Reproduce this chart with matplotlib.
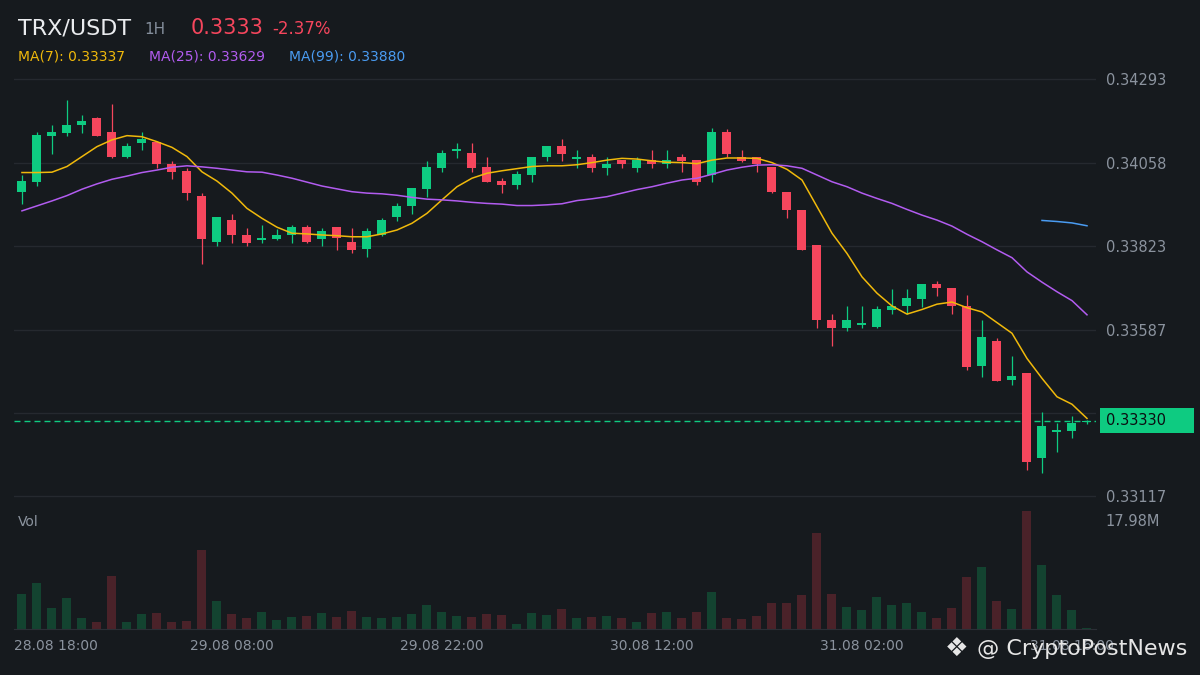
import numpy as np
import matplotlib
matplotlib.use('Agg')
import matplotlib.pyplot as plt
import matplotlib.transforms as mtransforms
from matplotlib.patches import Rectangle

# TRX/USDT hourly candles, 28.08 18:00 -> 31.08 17:00
opens = [0.33976, 0.34004, 0.34134, 0.34142, 0.34165, 0.34184, 0.34144, 0.34075, 0.34114, 0.34116,
         0.34054, 0.34034, 0.33964, 0.33835, 0.33896, 0.33854, 0.33841, 0.33843, 0.33855, 0.33877,
         0.33843, 0.33877, 0.33834, 0.33815, 0.33855, 0.33906, 0.33937, 0.33985, 0.34044, 0.34092,
         0.34085, 0.34046, 0.34006, 0.33996, 0.34024, 0.34075, 0.34105, 0.34069, 0.34074, 0.34044,
         0.34065, 0.34044, 0.34065, 0.34055, 0.34074, 0.34065, 0.34024, 0.34144, 0.34074, 0.34074,
         0.34046, 0.33975, 0.33924, 0.33826, 0.33614, 0.33593, 0.33601, 0.33595, 0.33643, 0.33655,
         0.33674, 0.33716, 0.33705, 0.33654, 0.33485, 0.33555, 0.33446, 0.33465, 0.33226, 0.33299,
         0.33302, 0.33326]
highs = [0.34023, 0.34144, 0.34164, 0.34235, 0.34192, 0.34186, 0.34223, 0.34113, 0.34144, 0.34118,
         0.34063, 0.34042, 0.33972, 0.33905, 0.33913, 0.33874, 0.33882, 0.33871, 0.33882, 0.33882,
         0.33874, 0.33877, 0.33874, 0.33874, 0.33902, 0.33944, 0.33986, 0.34063, 0.34094, 0.34113,
         0.34113, 0.34074, 0.34015, 0.34034, 0.34074, 0.34105, 0.34125, 0.34094, 0.34082, 0.34074,
         0.34065, 0.34074, 0.34094, 0.34094, 0.34082, 0.34065, 0.34156, 0.34153, 0.34094, 0.34074,
         0.34046, 0.33975, 0.33924, 0.33826, 0.33631, 0.33654, 0.33654, 0.33654, 0.33702, 0.33702,
         0.33716, 0.33724, 0.33705, 0.33685, 0.33614, 0.33563, 0.33513, 0.33465, 0.33355, 0.33324,
         0.33344, 0.33332]
lows = [0.33942, 0.33993, 0.34083, 0.34134, 0.34142, 0.34134, 0.34072, 0.34072, 0.34094, 0.34044,
        0.34013, 0.33953, 0.33773, 0.33824, 0.33832, 0.33824, 0.33832, 0.33840, 0.33832, 0.33832,
        0.33824, 0.33813, 0.33804, 0.33793, 0.33852, 0.33894, 0.33914, 0.33962, 0.34032, 0.34072,
        0.34032, 0.34004, 0.33973, 0.33985, 0.34004, 0.34063, 0.34063, 0.34044, 0.34032, 0.34024,
        0.34044, 0.34032, 0.34044, 0.34044, 0.34032, 0.33995, 0.34004, 0.34073, 0.34061, 0.34032,
        0.33973, 0.33903, 0.33813, 0.33593, 0.33542, 0.33584, 0.33593, 0.33593, 0.33632, 0.33632,
        0.33652, 0.33683, 0.33632, 0.33474, 0.33454, 0.33443, 0.33432, 0.33192, 0.33184, 0.33243,
        0.33282, 0.33320]
closes = [0.34006, 0.34136, 0.34144, 0.34164, 0.34175, 0.34134, 0.34075, 0.34105, 0.34125, 0.34055,
          0.34032, 0.33973, 0.33843, 0.33905, 0.33855, 0.33832, 0.33846, 0.33854, 0.33877, 0.33835,
          0.33865, 0.33846, 0.33813, 0.33865, 0.33896, 0.33936, 0.33986, 0.34046, 0.34085, 0.34096,
          0.34044, 0.34004, 0.33996, 0.34026, 0.34074, 0.34105, 0.34083, 0.34074, 0.34044, 0.34054,
          0.34055, 0.34065, 0.34055, 0.34065, 0.34063, 0.34004, 0.34144, 0.34083, 0.34063, 0.34055,
          0.33976, 0.33925, 0.33813, 0.33615, 0.33593, 0.33614, 0.33606, 0.33645, 0.33654, 0.33676,
          0.33716, 0.33705, 0.33655, 0.33483, 0.33566, 0.33443, 0.33456, 0.33215, 0.33315, 0.33304,
          0.33324, 0.33330]

# volume in millions
volumes_m = [5.78, 7.59, 3.47, 5.12, 1.82, 1.16, 8.75, 1.16, 2.48, 2.64,
             1.16, 1.32, 13.04, 4.62, 2.48, 1.82, 2.81, 1.49, 1.98, 2.15,
             2.64, 1.98, 2.97, 1.98, 1.82, 1.98, 2.48, 3.96, 2.81, 2.15,
             1.98, 2.48, 2.31, 0.83, 2.64, 2.31, 3.30, 1.82, 1.98, 2.15,
             1.82, 1.16, 2.64, 2.81, 1.82, 2.81, 6.11, 1.82, 1.65, 2.15,
             4.29, 4.29, 5.61, 15.84, 5.78, 3.63, 3.14, 5.28, 3.96, 4.29,
             2.81, 1.82, 3.47, 8.58, 10.23, 4.62, 3.30, 19.47, 10.56, 5.61,
             3.14, 0.17]

ma7 = [0.34030, 0.34030, 0.34031, 0.34047, 0.34075, 0.34103, 0.34122, 0.34134, 0.34131, 0.34117,
       0.34101, 0.34075, 0.34032, 0.34006, 0.33972, 0.33929, 0.33901, 0.33876, 0.33859, 0.33857,
       0.33854, 0.33852, 0.33849, 0.33849, 0.33857, 0.33868, 0.33887, 0.33915, 0.33953, 0.33990,
       0.34014, 0.34028, 0.34035, 0.34041, 0.34047, 0.34049, 0.34049, 0.34052, 0.34058, 0.34065,
       0.34070, 0.34068, 0.34063, 0.34059, 0.34058, 0.34055, 0.34065, 0.34071, 0.34071, 0.34070,
       0.34058, 0.34039, 0.34009, 0.33934, 0.33859, 0.33802, 0.33736, 0.33690, 0.33654, 0.33631,
       0.33644, 0.33659, 0.33665, 0.33649, 0.33637, 0.33607, 0.33577, 0.33506, 0.33450, 0.33398,
       0.33377, 0.33337]
ma25 = [0.33922, 0.33936, 0.33950, 0.33965, 0.33983, 0.33998, 0.34011, 0.34020, 0.34030, 0.34037,
        0.34045, 0.34049, 0.34046, 0.34042, 0.34037, 0.34032, 0.34031, 0.34023, 0.34014, 0.34003,
        0.33992, 0.33984, 0.33976, 0.33972, 0.33970, 0.33966, 0.33960, 0.33955, 0.33953, 0.33950,
        0.33946, 0.33943, 0.33941, 0.33937, 0.33937, 0.33939, 0.33942, 0.33951, 0.33956, 0.33962,
        0.33972, 0.33982, 0.33990, 0.34000, 0.34009, 0.34014, 0.34025, 0.34037, 0.34045, 0.34051,
        0.34052, 0.34049, 0.34042, 0.34023, 0.34004, 0.33990, 0.33972, 0.33957, 0.33943, 0.33926,
        0.33910, 0.33896, 0.33879, 0.33856, 0.33835, 0.33812, 0.33790, 0.33750, 0.33721, 0.33694,
        0.33669, 0.33629]
ma99 = [np.nan] * 68 + [0.33895, 0.33892, 0.33888, 0.33880]

change_pct = -2.37
price_ticks = [0.34293, 0.34058, 0.33823, 0.33587, 0.33352, 0.33117]
vol_tick = 17.98
time_labels = ['28.08 18:00', '29.08 08:00', '29.08 22:00', '30.08 12:00', '31.08 02:00', '31.08 16:00']
time_label_idx = [0, 14, 28, 42, 56, 70]

BG = '#161a1e'
GRID = '#25292f'
TXT = '#8b939e'
UP = '#0ecb81'
DOWN = '#f6465d'
UP_VOL = '#134330'
DOWN_VOL = '#4a2229'
C_MA7 = '#f0b90b'
C_MA25 = '#b25cf0'
C_MA99 = '#4a9cf2'

W, H = 1200, 675
fig = plt.figure(figsize=(12, 6.75), dpi=100, facecolor=BG)


def fx(px):
    return px / W


def fy(py):
    return 1 - py / H


ax = fig.add_axes([fx(14), fy(505), fx(1096) - fx(14), fy(70) - fy(505)], facecolor=BG)
axv = fig.add_axes([fx(14), fy(629), fx(1096) - fx(14), fy(510) - fy(629)], facecolor='none')

x = np.arange(len(closes))
o = np.array(opens)
c = np.array(closes)
up = c >= o
colors = np.where(up, UP, DOWN)

# candles
ax.vlines(x, lows, highs, colors=colors, lw=0.9, zorder=2)
body_lo = np.minimum(o, c)
body_h = np.maximum(np.abs(c - o), 0.00004)
ax.bar(x, body_h, bottom=body_lo, width=0.6, color=colors, linewidth=0, zorder=2)

# moving averages
ax.plot(x, ma7, color=C_MA7, lw=1.1, zorder=3)
ax.plot(x, ma25, color=C_MA25, lw=1.1, zorder=3)
ax.plot(x, ma99, color=C_MA99, lw=1.1, zorder=3)

# last price dashed line
ax.axhline(closes[-1], color=UP, lw=1, ls=(0, (4.3, 2.9)), zorder=1)

ax.set_xlim(-0.53, 71.6)
ax.set_ylim(0.33093, 0.34319)
ax.set_yticks(price_ticks)
# the tick hidden behind the current price tag gets no label
ax.set_yticklabels(['' if abs(t - closes[-1]) < 0.0004 else f'{t:.5f}' for t in price_ticks])
ax.yaxis.tick_right()
ax.tick_params(axis='y', length=0, pad=7, labelsize=10.5, labelcolor=TXT)
ax.tick_params(axis='x', bottom=False, labelbottom=False)
ax.grid(axis='y', color=GRID, lw=1)
ax.set_axisbelow(True)
for s in ax.spines.values():
    s.set_visible(False)

# volume pane
vol_colors = np.where(up, UP_VOL, DOWN_VOL)
axv.bar(x, volumes_m, width=0.6, color=vol_colors, linewidth=0)
axv.set_xlim(-0.53, 71.6)
axv.set_ylim(0, 19.63)
axv.set_yticks([vol_tick])
axv.set_yticklabels([f'{vol_tick:.2f}M'])
axv.yaxis.tick_right()
axv.tick_params(axis='y', length=0, pad=7, labelsize=10.5, labelcolor=TXT)
axv.set_xticks([])
for name, s in axv.spines.items():
    s.set_visible(name == 'bottom')
axv.spines['bottom'].set_color('#2b2f36')
axv.text(fx(18) - fx(14), (629 - 522) / 119, 'Vol', transform=axv.transAxes,
         color=TXT, fontsize=10, va='center', ha='left')

# time labels
tr = mtransforms.blended_transform_factory(axv.transData, axv.transAxes)
for k, (idx, lab) in enumerate(zip(time_label_idx, time_labels)):
    if k == 0:
        axv.text(axv.get_xlim()[0], -0.143, lab, transform=tr, ha='left', va='center',
                 color=TXT, fontsize=10)
    else:
        axv.text(idx, -0.143, lab, transform=tr, ha='center', va='center',
                 color=TXT, fontsize=10)

# current price label on the right axis
y_disp = ax.transData.transform((0, closes[-1]))[1]
fig.add_artist(Rectangle((1100, y_disp - 12.5), 94, 25, transform=mtransforms.IdentityTransform(),
                         facecolor=UP, edgecolor='none', zorder=5))
fig.text(fx(1106), y_disp / H, f'{closes[-1]:.5f}', color='#0b0e11', fontsize=10.5,
         va='center', ha='left', zorder=6)

# header
fig.text(fx(18), fy(28), 'TRX/USDT', fontsize=16, color='#eaecef', va='center')
fig.text(fx(144), fy(30), '1H', fontsize=11, color='#848e9c', va='center')
fig.text(fx(191), fy(28), f'{closes[-1]:.4f}', fontsize=15, color=DOWN, va='center')
fig.text(fx(272), fy(29), f'{change_pct:.2f}%', fontsize=12, color=DOWN, va='center')
fig.text(fx(18), fy(57), f'MA(7): {ma7[-1]:.5f}', fontsize=10, color=C_MA7, va='center')
fig.text(fx(149), fy(57), f'MA(25): {ma25[-1]:.5f}', fontsize=10, color=C_MA25, va='center')
fig.text(fx(289), fy(57), f'MA(99): {ma99[-1]:.5f}', fontsize=10, color=C_MA99, va='center')

# watermark (sits over the last time label, as in the screenshot)
fig.text(fx(957), fy(649), '\u2756', fontsize=19, color='#e6e6e6', ha='center', va='center', zorder=7)
fig.text(fx(977), fy(649), '@ CryptoPostNews', fontsize=16, color='#e6e6e6', ha='left',
         va='center', zorder=7)

fig.savefig('out.png', dpi=100, facecolor=BG)
